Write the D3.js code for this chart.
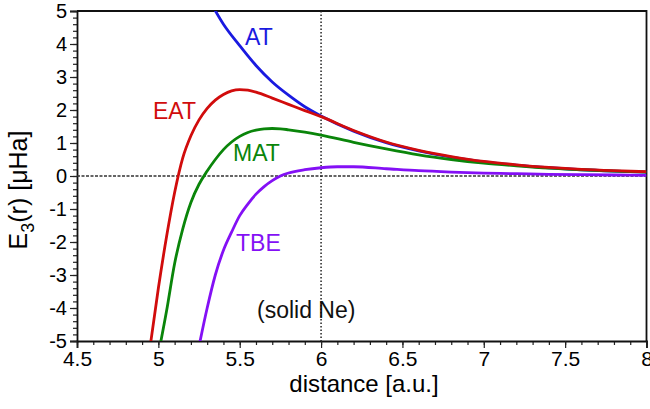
<!doctype html>
<html>
<head>
<meta charset="UTF-8">
<style>
    body { margin: 0; background-color: white; }
    text { font-family: "Liberation Sans", Arial, Helvetica, sans-serif; }
</style>
<script src="https://d3js.org/d3.v7.min.js"></script>
</head>
<body>
<svg width="650" height="409"></svg>
<script>
// values (distance in a.u., E3 in microHartree)
const atX  = [5.3, 5.4, 5.5, 5.6, 5.7, 5.8, 5.9, 6.0, 6.2, 6.4, 6.6, 6.8, 7.0, 7.2, 7.4, 7.6, 7.8, 8.0];
const atY  = [5.45, 4.6, 3.95, 3.35, 2.85, 2.45, 2.1, 1.82, 1.36, 1.01, 0.76, 0.57, 0.43, 0.33, 0.25, 0.19, 0.15, 0.12];

const eatX = [4.94, 5.0, 5.05, 5.1, 5.15, 5.2, 5.25, 5.3, 5.35, 5.4, 5.45, 5.5, 5.55, 5.6, 5.7, 5.8, 5.9, 6.0, 6.2, 6.4, 6.6, 6.8, 7.0, 7.2, 7.4, 7.6, 7.8, 8.0];
const eatY = [-5.5, -3.4, -1.85, -0.5, 0.55, 1.22, 1.7, 2.05, 2.3, 2.47, 2.58, 2.62, 2.6, 2.54, 2.36, 2.17, 1.98, 1.8, 1.38, 1.03, 0.78, 0.59, 0.44, 0.34, 0.26, 0.2, 0.16, 0.13];

const matX = [5.0, 5.05, 5.1, 5.15, 5.2, 5.25, 5.3, 5.35, 5.4, 5.45, 5.5, 5.55, 5.6, 5.65, 5.7, 5.75, 5.8, 5.9, 6.0, 6.2, 6.4, 6.6, 6.8, 7.0, 7.2, 7.4, 7.6, 7.8, 8.0];
const matY = [-5.4, -4.1, -2.65, -1.6, -0.8, -0.25, 0.15, 0.5, 0.8, 1.03, 1.2, 1.32, 1.39, 1.43, 1.44, 1.43, 1.4, 1.33, 1.24, 1.02, 0.82, 0.64, 0.5, 0.39, 0.31, 0.24, 0.19, 0.15, 0.12];

const tbeX = [5.24, 5.3, 5.35, 5.4, 5.45, 5.5, 5.55, 5.6, 5.65, 5.7, 5.75, 5.8, 5.9, 6.0, 6.1, 6.2, 6.4, 6.6, 6.8, 7.0, 7.2, 7.4, 7.6, 7.8, 8.0];
const tbeY = [-5.4, -4.0, -3.0, -2.25, -1.7, -1.2, -0.85, -0.55, -0.32, -0.14, 0.0, 0.09, 0.19, 0.25, 0.28, 0.28, 0.22, 0.16, 0.12, 0.09, 0.07, 0.05, 0.04, 0.03, 0.02];

const xTicks = [4.5, 5, 5.5, 6, 6.5, 7, 7.5, 8];
const yTicks = [-5, -4, -3, -2, -1, 0, 1, 2, 3, 4, 5];
const solidNe = 6.0;

var svg = d3.select("svg");
// plot box in pixels
var pLeft = 77, pRight = 646.5, pTop = 11, pBottom = 341;

var x = d3.scaleLinear().domain([4.5, 8]).range([pLeft, pRight]);
var y = d3.scaleLinear().domain([-5, 5]).range([pBottom, pTop]);

svg.append("clipPath").attr("id", "plot")
   .append("rect")
   .attr("x", pLeft).attr("y", pTop)
   .attr("width", pRight - pLeft).attr("height", pBottom - pTop);

// minor ticks first, then major ones with labels
var minorX = d3.range(45, 81).map(d => d / 10);
var minorY = d3.range(-25, 26).map(d => d / 5);

svg.append("g")
   .attr("transform", "translate(0," + pBottom + ")")
   .call(d3.axisBottom(x).tickValues(minorX).tickSize(4).tickFormat(""))
   .call(g => g.select(".domain").remove());

svg.append("g")
   .attr("transform", "translate(" + pLeft + ",0)")
   .call(d3.axisLeft(y).tickValues(minorY).tickSize(4).tickFormat(""))
   .call(g => g.select(".domain").remove());

var gx = svg.append("g")
   .attr("transform", "translate(0," + pBottom + ")")
   .call(d3.axisBottom(x).tickValues(xTicks).tickSize(7).tickPadding(3)
         .tickFormat(d => "" + d));
gx.selectAll("text").attr("font-size", 21).attr("fill", "black")
  .attr("font-family", "'Liberation Sans', Arial, sans-serif");

var gy = svg.append("g")
   .attr("transform", "translate(" + pLeft + ",0)")
   .call(d3.axisLeft(y).tickValues(yTicks).tickSize(7).tickPadding(3)
         .tickFormat(d => "" + d));
gy.selectAll("text").attr("font-size", 20).attr("fill", "black")
  .attr("font-family", "'Liberation Sans', Arial, sans-serif");

svg.selectAll(".tick line").attr("stroke", "#222").attr("stroke-width", 1.2);
svg.selectAll(".domain").attr("stroke", "#111").attr("stroke-width", 1.8);

// frame top and right
svg.append("path")
   .attr("d", "M" + pLeft + "," + pTop + "H" + pRight + "V" + pBottom)
   .attr("fill", "none").attr("stroke", "#111").attr("stroke-width", 1.8);

// zero line and solid Ne marker
svg.append("line")
   .attr("x1", pLeft).attr("x2", pRight)
   .attr("y1", y(0)).attr("y2", y(0))
   .attr("stroke", "#333").attr("stroke-width", 1.3)
   .attr("stroke-dasharray", "3,1.5");

svg.append("line")
   .attr("x1", x(solidNe)).attr("x2", x(solidNe))
   .attr("y1", pTop).attr("y2", pBottom)
   .attr("stroke", "#222").attr("stroke-width", 1.5)
   .attr("stroke-dasharray", "1.5,2");

var line = d3.line()
   .x(d => x(d[0]))
   .y(d => y(d[1]))
   .curve(d3.curveMonotoneX);

var series = [
    { name: "AT",  xs: atX,  ys: atY,  color: "#1a1ae0" },
    { name: "MAT", xs: matX, ys: matY, color: "#0a850a" },
    { name: "TBE", xs: tbeX, ys: tbeY, color: "#8410f5" },
    { name: "EAT", xs: eatX, ys: eatY, color: "#d10c0c" }
];

var plot = svg.append("g").attr("clip-path", "url(#plot)");
series.forEach(function(s) {
    plot.append("path")
        .datum(s.xs.map((v, i) => [v, s.ys[i]]))
        .attr("fill", "none")
        .attr("stroke", s.color)
        .attr("stroke-width", 2.8)
        .attr("d", line);
});

// curve names
var labels = [
    { t: "AT",  x: 245, y: 45,  c: "#1a1ae0" },
    { t: "EAT", x: 153, y: 119, c: "#d10c0c" },
    { t: "MAT", x: 233, y: 161, c: "#0a850a" },
    { t: "TBE", x: 236, y: 251, c: "#8410f5" },
    { t: "(solid Ne)", x: 257, y: 318, c: "#111" }
];
svg.selectAll(".lab").data(labels).enter().append("text")
   .attr("class", "lab")
   .attr("x", d => d.x).attr("y", d => d.y)
   .attr("font-size", 23)
   .attr("fill", d => d.c)
   .text(d => d.t);

// axis titles
svg.append("text")
   .attr("x", 364).attr("y", 392)
   .attr("text-anchor", "middle")
   .attr("font-size", 24)
   .text("distance [a.u.]");

var yl = svg.append("text")
   .attr("transform", "translate(27,190) rotate(-90)")
   .attr("text-anchor", "middle")
   .attr("font-size", 25);
yl.append("tspan").text("E");
yl.append("tspan").attr("font-size", 18).attr("dy", 7).text("3");
yl.append("tspan").attr("dy", -7).text("(r) [μHa]");
</script>
</body>
</html>
